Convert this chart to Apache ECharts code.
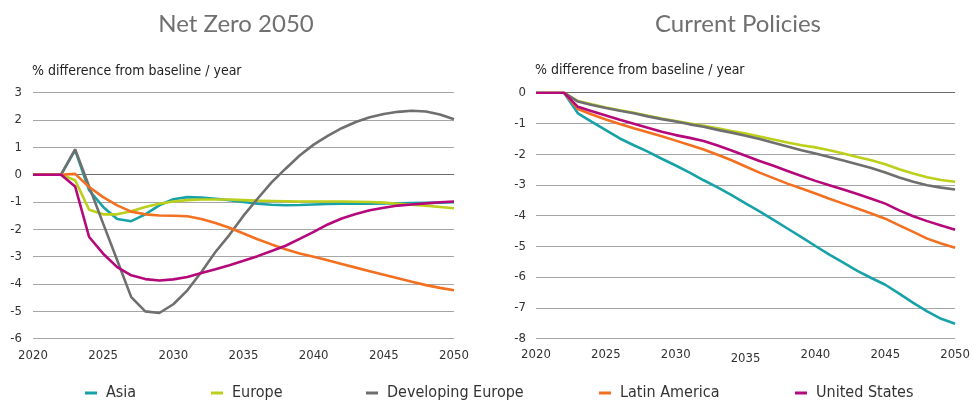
<!DOCTYPE html>
<html>
<head>
<meta charset="utf-8">
<script src="https://cdn.jsdelivr.net/npm/echarts@6/dist/echarts.min.js"></script>
<style>
html,body{margin:0;padding:0;background:#fff;}
#c{width:973px;height:403px;}
</style>
</head>
<body>
<div id="c"></div>
<script>
// ---- data ----
const years = [];
for (let y = 2020; y <= 2050; y++) years.push(y);
const seriesNames = ['Asia', 'Europe', 'Developing Europe', 'Latin America', 'United States'];
const panelTitles = ['Net Zero 2050', 'Current Policies'];
const axisTitle = '% difference from baseline / year';

// Net Zero 2050
const asiaNZ = [0,0,0,0.9,-0.57,-1.18,-1.62,-1.7,-1.45,-1.12,-0.9,-0.82,-0.84,-0.88,-0.93,-1.0,-1.06,-1.1,-1.12,-1.11,-1.09,-1.07,-1.06,-1.06,-1.06,-1.05,-1.05,-1.04,-1.03,-1.02,-1.01];
const europeNZ = [0,0,0,-0.2,-1.28,-1.45,-1.45,-1.34,-1.18,-1.06,-0.98,-0.93,-0.91,-0.91,-0.91,-0.93,-0.95,-0.96,-0.97,-0.98,-0.98,-0.98,-0.98,-0.99,-1.0,-1.02,-1.06,-1.1,-1.13,-1.18,-1.23];
const devEuropeNZ = [0,0,0,0.93,-0.43,-1.79,-3.13,-4.48,-5.0,-5.06,-4.74,-4.23,-3.56,-2.83,-2.2,-1.5,-0.88,-0.28,0.22,0.7,1.1,1.42,1.7,1.93,2.1,2.22,2.3,2.34,2.31,2.2,2.03];
const latamNZ = [0,0,0,0.03,-0.45,-0.82,-1.12,-1.35,-1.45,-1.49,-1.5,-1.52,-1.62,-1.77,-1.94,-2.15,-2.36,-2.55,-2.73,-2.88,-3.0,-3.13,-3.27,-3.4,-3.53,-3.66,-3.79,-3.92,-4.04,-4.14,-4.23];
const usNZ = [0,0,0,-0.43,-2.28,-2.89,-3.38,-3.68,-3.82,-3.87,-3.83,-3.74,-3.6,-3.46,-3.31,-3.15,-2.98,-2.79,-2.6,-2.35,-2.09,-1.82,-1.6,-1.44,-1.3,-1.21,-1.13,-1.09,-1.05,-1.01,-0.98];

// Current Policies
const asiaCP = [0,0,0,-0.67,-0.95,-1.22,-1.49,-1.71,-1.92,-2.15,-2.37,-2.6,-2.85,-3.08,-3.33,-3.6,-3.86,-4.14,-4.42,-4.7,-4.99,-5.27,-5.53,-5.8,-6.03,-6.25,-6.54,-6.84,-7.12,-7.36,-7.52];
const europeCP = [0,0,0,-0.27,-0.38,-0.48,-0.57,-0.65,-0.75,-0.84,-0.92,-1.0,-1.08,-1.16,-1.25,-1.33,-1.43,-1.52,-1.62,-1.71,-1.78,-1.87,-1.98,-2.09,-2.2,-2.33,-2.49,-2.63,-2.75,-2.84,-2.9];
const devEuropeCP = [0,0,0,-0.29,-0.4,-0.5,-0.59,-0.67,-0.77,-0.86,-0.94,-1.03,-1.11,-1.21,-1.3,-1.4,-1.51,-1.63,-1.75,-1.87,-1.98,-2.09,-2.21,-2.33,-2.45,-2.6,-2.76,-2.9,-3.01,-3.09,-3.15];
const latamCP = [0,0,0,-0.53,-0.71,-0.87,-1.02,-1.16,-1.29,-1.42,-1.56,-1.7,-1.85,-2.02,-2.2,-2.4,-2.6,-2.78,-2.96,-3.12,-3.28,-3.45,-3.61,-3.77,-3.93,-4.1,-4.32,-4.53,-4.75,-4.91,-5.05];
const usCP = [0,0,0,-0.46,-0.6,-0.74,-0.88,-1.01,-1.14,-1.27,-1.38,-1.47,-1.57,-1.72,-1.88,-2.05,-2.22,-2.38,-2.55,-2.71,-2.87,-3.01,-3.15,-3.3,-3.45,-3.61,-3.83,-4.02,-4.18,-4.32,-4.46];

// ---- styling ----
const colors = ['#17a2a8', '#bccf1a', '#6f6f6f', '#f37021', '#b5087a'];
const FONT = '"Liberation Sans Narrow", "Arial Narrow", "DejaVu Sans Condensed", sans-serif';
const TITLE_FONT = 'Lato, "Open Sans", sans-serif';

const nzData = [asiaNZ, europeNZ, devEuropeNZ, latamNZ, usNZ];
const cpData = [asiaCP, europeCP, devEuropeCP, latamCP, usCP];

function pairs(arr) { return years.map((y, i) => [y, arr[i]]); }

function splitColors(min, max, interval) {
  const out = [];
  for (let v = min; v <= max + 1e-9; v += interval) out.push(Math.abs(v) < 1e-9 ? '#6b6b6b' : '#a6a6a6');
  return out;
}

const series = [];
[nzData, cpData].forEach((set, gi) => {
  set.forEach((arr, si) => {
    series.push({
      name: seriesNames[si],
      type: 'line',
      xAxisIndex: gi,
      yAxisIndex: gi,
      data: pairs(arr),
      showSymbol: false,
      symbol: 'none',
      smooth: false,
      lineStyle: { width: 2.6, color: colors[si] },
      itemStyle: { color: colors[si] },
      z: 2 + si
    });
  });
});

function xAxisFor(gi, lowerLabel) {
  return {
    gridIndex: gi,
    type: 'value', min: 2020, max: 2050, interval: 5,
    axisLine: { show: false }, axisTick: { show: false }, splitLine: { show: false },
    axisLabel: {
      color: '#333', fontFamily: FONT, fontSize: 13, margin: 10,
      formatter: v => (lowerLabel && v === lowerLabel) ? '{low|' + v + '}' : '{n|' + v + '}',
      rich: {
        n: { color: '#333', fontFamily: FONT, fontSize: 13, padding: [0, 0, 0, 0] },
        low: { color: '#333', fontFamily: FONT, fontSize: 13, padding: [4, 0, 0, 0] }
      }
    }
  };
}

const legendLefts = [85, 211, 366, 599, 795];
const legends = seriesNames.map((n, i) => ({
  data: [n],
  left: legendLefts[i],
  top: 385,
  icon: 'rect',
  itemWidth: 12,
  itemHeight: 3,
  itemGap: 0,
  padding: 0,
  selectedMode: false,
  textStyle: { color: '#333', fontFamily: FONT, fontSize: 16, padding: [0, 0, 0, 4] }
}));

const option = {
  animation: false,
  backgroundColor: '#fff',
  color: colors,
  legend: legends,
  grid: [
    { left: 33, top: 92.7, width: 421, height: 246, containLabel: false },
    { left: 536, top: 92.7, width: 422, height: 245.8, containLabel: false }
  ],
  xAxis: [xAxisFor(0, null), xAxisFor(1, 2035)],
  yAxis: [
    {
      gridIndex: 0, type: 'value', min: -6, max: 3, interval: 1,
      axisLine: { show: false }, axisTick: { show: false },
      axisLabel: { color: '#333', fontFamily: FONT, fontSize: 13, margin: 11 },
      splitLine: { show: true, lineStyle: { color: splitColors(-6, 3, 1), width: 1 } }
    },
    {
      gridIndex: 1, type: 'value', min: -8, max: 0, interval: 1,
      axisLine: { show: false }, axisTick: { show: false },
      axisLabel: { color: '#333', fontFamily: FONT, fontSize: 13, margin: 10 },
      splitLine: { show: true, lineStyle: { color: splitColors(-8, 0, 1), width: 1 } }
    }
  ],
  graphic: [
    { type: 'text', x: 236, y: 24, style: { text: panelTitles[0], font: '24px ' + TITLE_FONT, fill: '#707070', textAlign: 'center', textVerticalAlign: 'middle' } },
    { type: 'text', x: 738, y: 24, style: { text: panelTitles[1], font: '24px ' + TITLE_FONT, fill: '#707070', textAlign: 'center', textVerticalAlign: 'middle' } },
    { type: 'text', x: 32, y: 71, style: { text: axisTitle, font: '14px ' + FONT, fill: '#222', textAlign: 'left', textVerticalAlign: 'middle' } },
    { type: 'text', x: 535, y: 70, style: { text: axisTitle, font: '14px ' + FONT, fill: '#222', textAlign: 'left', textVerticalAlign: 'middle' } }
  ],
  series: series
};

const chart = echarts.init(document.getElementById('c'), null, { renderer: 'canvas' });
chart.setOption(option);
</script>
</body>
</html>
